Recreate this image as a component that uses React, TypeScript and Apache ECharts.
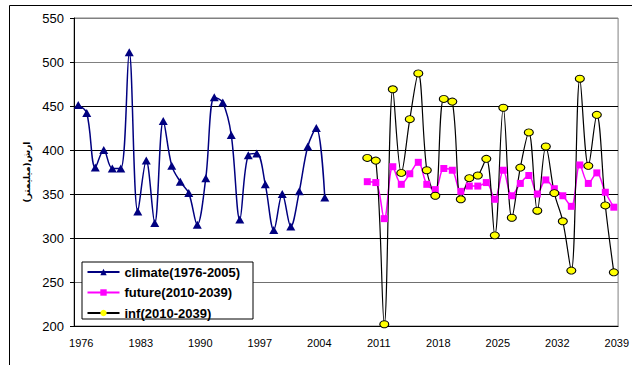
import React, { useEffect, useRef } from "react";
import * as echarts from "echarts";

const years = [
  "1976", "1977", "1978", "1979", "1980", "1981", "1982", "1983", "1984", "1985",
  "1986", "1987", "1988", "1989", "1990", "1991", "1992", "1993", "1994", "1995",
  "1996", "1997", "1998", "1999", "2000", "2001", "2002", "2003", "2004", "2005",
  "2006", "2007", "2008", "2009", "2010", "2011", "2012", "2013", "2014", "2015",
  "2016", "2017", "2018", "2019", "2020", "2021", "2022", "2023", "2024", "2025",
  "2026", "2027", "2028", "2029", "2030", "2031", "2032", "2033", "2034", "2035",
  "2036", "2037", "2038", "2039",
];

const climateYears = years.slice(0, 30); // 1976-2005
const futureYears = years.slice(34); // 2010-2039

const climate = [
  451, 442, 380, 400, 379, 379, 511, 330, 388, 317,
  433, 382, 364, 351, 315, 368, 460, 454, 417, 321,
  394, 396, 361, 309, 350, 313, 353, 404, 425, 346,
];

const future = [
  364, 363, 322, 381, 361, 373, 386, 361, 355, 379,
  377, 353, 359, 359, 363, 344, 377, 348, 362, 371,
  350, 366, 356, 348, 336, 383, 362, 374, 352, 335,
];

const inf = [
  391, 388, 202, 469, 374, 435, 487, 377, 348, 458,
  455, 344, 368, 371, 390, 303, 448, 323, 380, 420,
  331, 404, 351, 319, 263, 481, 382, 440, 337, 261,
];

const yTicks = { min: 200, max: 550, interval: 50 };
const yName = "ارش(میلیمتر)";
const legendNames = ["climate(1976-2005)", "future(2010-2039)", "inf(2010-2039)"];

export default function App() {
  const ref = useRef<HTMLDivElement>(null);
  useEffect(() => {
    if (!ref.current) return;
    const chart = echarts.init(ref.current, undefined, { renderer: "svg" });
    const font = "Liberation Sans, Arial, sans-serif";
    chart.setOption({
      animation: false,
      backgroundColor: "#ffffff",
      grid: {
        left: 74,
        top: 18,
        width: 552.5,
        height: 308,
        show: true,
        borderColor: "#808080",
        borderWidth: 1,
        containLabel: false,
      },
      graphic: [
        {
          type: "rect",
          z: 0,
          silent: true,
          shape: { x: 9.5, y: 5.5, width: 700, height: 500 },
          style: { fill: "none", stroke: "#000", lineWidth: 1 },
        },
        {
          type: "rect",
          z: 3,
          silent: true,
          shape: { x: 82, y: 262, width: 171, height: 57 },
          style: { fill: "#fff", stroke: "#000", lineWidth: 1 },
        },
      ],
      legend: {
        orient: "vertical",
        left: 82,
        top: 262,
        z: 5,
        padding: [3.5, 6, 2, 4.5],
        itemWidth: 32,
        itemHeight: 8,
        itemGap: 7.5,
        itemStyle: { borderWidth: 0 },
        textStyle: {
          fontFamily: font,
          fontWeight: "bold",
          fontSize: 13,
          color: "#000",
          lineHeight: 12,
        },
        data: legendNames,
      },
      xAxis: {
        type: "category",
        data: years,
        boundaryGap: true,
        axisLine: { lineStyle: { color: "#000", width: 1 } },
        axisTick: { inside: true, length: 4, interval: 6, lineStyle: { color: "#000" } },
        axisLabel: {
          interval: 6,
          fontFamily: font,
          fontSize: 11,
          color: "#000",
          margin: 11,
          padding: [0, 0, 0, 6],
        },
        splitLine: { show: false },
      },
      yAxis: {
        type: "value",
        min: yTicks.min,
        max: yTicks.max,
        interval: yTicks.interval,
        name: yName,
        nameLocation: "middle",
        nameRotate: 90,
        nameGap: 39,
        nameTextStyle: {
          fontFamily: "DejaVu Sans, Noto Sans, sans-serif",
          fontWeight: "bold",
          fontSize: 9,
          color: "#000",
        },
        axisLine: { show: true, lineStyle: { color: "#000", width: 1 } },
        axisTick: { show: true, inside: false, length: 4, lineStyle: { color: "#000" } },
        axisLabel: { fontFamily: font, fontSize: 13, color: "#000", margin: 10 },
        splitLine: {
          show: true,
          lineStyle: {
            color: ["#808080", "#707070", "#000", "#000", "#000", "#000", "#808080", "#808080"],
            width: 1,
          },
        },
      },
      series: [
        {
          name: legendNames[0],
          type: "line",
          smooth: 0.35,
          showAllSymbol: true,
          showSymbol: true,
          data: climateYears.map((y, i) => [y, climate[i]]),
          symbol: "triangle",
          symbolSize: [9, 8],
          itemStyle: { color: "#000080" },
          lineStyle: { color: "#000080", width: 1.5 },
          z: 2,
        },
        {
          name: legendNames[1],
          type: "line",
          smooth: 0.35,
          showAllSymbol: true,
          showSymbol: true,
          data: futureYears.map((y, i) => [y, future[i]]),
          symbol: "rect",
          symbolSize: 7,
          itemStyle: { color: "#ff00ff" },
          lineStyle: { color: "#ff00ff", width: 1.5 },
          z: 2,
        },
        {
          name: legendNames[2],
          type: "line",
          smooth: 0.35,
          showAllSymbol: true,
          showSymbol: true,
          data: futureYears.map((y, i) => [y, inf[i]]),
          symbol: "circle",
          symbolSize: [9, 7],
          itemStyle: { color: "#ffff00", borderColor: "#000", borderWidth: 1 },
          lineStyle: { color: "#000", width: 1.2 },
          z: 2,
        },
      ],
    });
    return () => chart.dispose();
  }, []);
  return (
    <div
      ref={ref}
      style={{ position: "fixed", left: 0, top: 0, width: 632, height: 365, background: "#fff" }}
    />
  );
}
